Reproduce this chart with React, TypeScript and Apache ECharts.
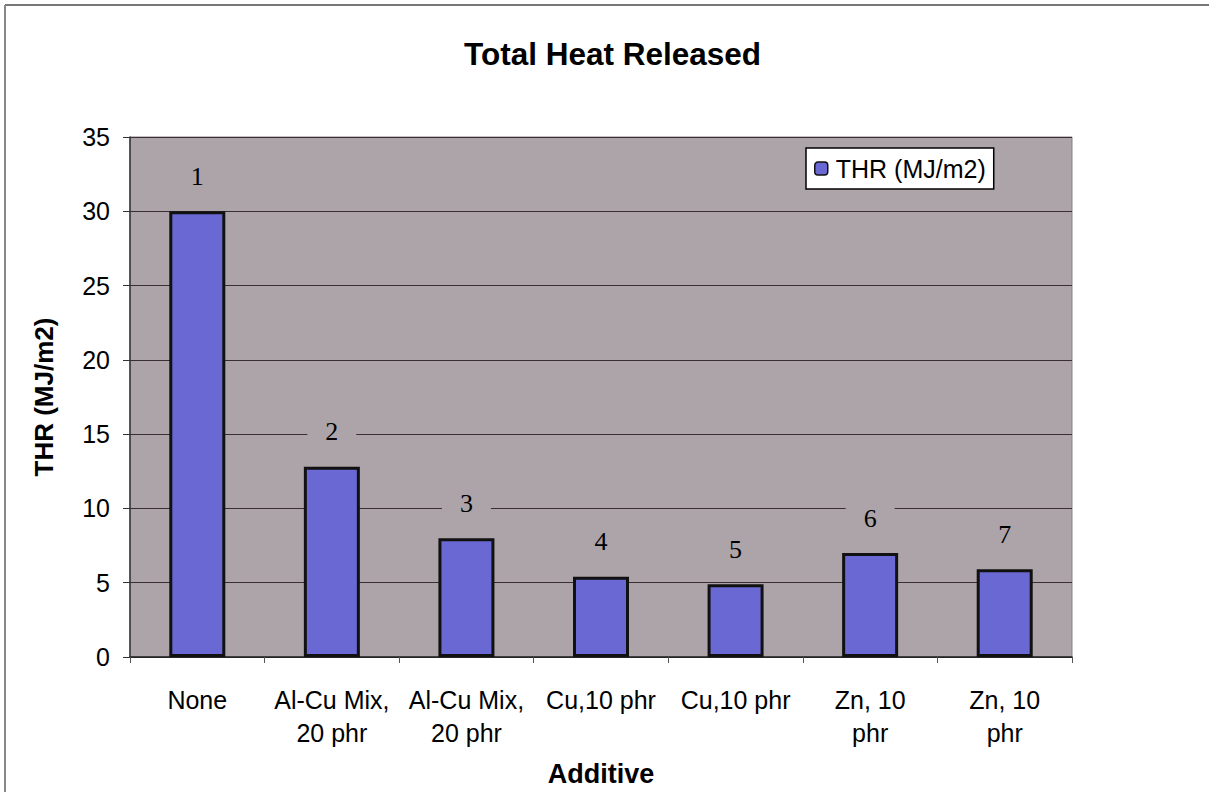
import React, { useEffect, useRef } from "react";
import * as echarts from "echarts";

const categories = [
  "None",
  "Al-Cu Mix,\n20 phr",
  "Al-Cu Mix,\n20 phr",
  "Cu,10 phr",
  "Cu,10 phr",
  "Zn, 10\nphr",
  "Zn, 10\nphr",
];
const thrValues = [30, 12.8, 8.0, 5.4, 4.9, 7.0, 5.9];
const barTags = ["1", "2", "3", "4", "5", "6", "7"];
const yTicks = { min: 0, max: 35, interval: 5 };

const SANS = "'Liberation Sans', Arial, sans-serif";
const SERIF = "'Liberation Serif', 'Times New Roman', serif";
const PLOT_BG = "#aca4a9";

export default function App() {
  const ref = useRef<HTMLDivElement>(null);
  useEffect(() => {
    document.body.style.margin = "0";
    const chart = echarts.init(ref.current!, null, { renderer: "svg" });
    chart.setOption({
      animation: false,
      backgroundColor: "#ffffff",
      title: {
        text: "Total Heat Released",
        left: 459,
        top: 33,
        textStyle: { fontFamily: SANS, fontSize: 31.5, fontWeight: "bold", color: "#000" },
      },
      legend: {
        left: 806,
        top: 148,
        padding: [8, 8],
        backgroundColor: "#ffffff",
        borderColor: "#000",
        borderWidth: 1.5,
        itemWidth: 13,
        itemHeight: 13,
        itemGap: 5,
        itemStyle: { borderWidth: 1.5, borderColor: "#111" },
        textStyle: { fontFamily: SANS, fontSize: 25, color: "#000", padding: [0, 0, 0, 3] },
        data: ["THR (MJ/m2)"],
      },
      grid: {
        left: 130,
        right: 137,
        top: 137,
        bottom: 123,
        show: true,
        backgroundColor: PLOT_BG,
        borderColor: "#8a8088",
        borderWidth: 1,
      },
      graphic: [
        { type: "line", shape: { x1: 5, y1: 5, x2: 1209, y2: 5 }, style: { stroke: "#777", lineWidth: 2 } },
        { type: "line", shape: { x1: 5, y1: 5, x2: 5, y2: 792 }, style: { stroke: "#888", lineWidth: 2 } },
      ],
      xAxis: {
        type: "category",
        data: categories,
        name: "Additive",
        nameLocation: "middle",
        nameGap: 103,
        nameTextStyle: { fontFamily: SANS, fontSize: 27, fontWeight: "bold", color: "#000" },
        axisLine: { show: true, lineStyle: { color: "#222", width: 1.5 } },
        axisTick: { show: true, length: 6, lineStyle: { color: "#555" } },
        axisLabel: {
          interval: 0,
          margin: 26,
          fontFamily: SANS,
          fontSize: 25,
          lineHeight: 33,
          color: "#000",
        },
      },
      yAxis: {
        type: "value",
        min: yTicks.min,
        max: yTicks.max,
        interval: yTicks.interval,
        name: "THR (MJ/m2)",
        nameLocation: "middle",
        nameGap: 73,
        nameTextStyle: { fontFamily: SANS, fontSize: 26, fontWeight: "bold", color: "#000" },
        axisLine: { show: true, lineStyle: { color: "#333", width: 1.5 } },
        axisTick: { show: true, length: 7, lineStyle: { color: "#333" } },
        axisLabel: { margin: 20, fontFamily: SANS, fontSize: 25, color: "#000" },
        splitLine: { show: true, lineStyle: { color: "#3a2e30", width: 1 } },
      },
      series: [
        {
          name: "THR (MJ/m2)",
          type: "bar",
          barWidth: 56,
          data: thrValues,
          itemStyle: { color: "#6a68d2", borderColor: "#111", borderWidth: 3 },
          label: {
            show: true,
            position: "top",
            distance: 20,
            formatter: (p: any) => barTags[p.dataIndex],
            fontFamily: SERIF,
            fontSize: 26,
            color: "#000",
            backgroundColor: PLOT_BG,
            padding: [2, 18],
          },
        },
      ],
    });
    return () => chart.dispose();
  }, []);
  return <div ref={ref} style={{ width: 1209, height: 792 }} />;
}
